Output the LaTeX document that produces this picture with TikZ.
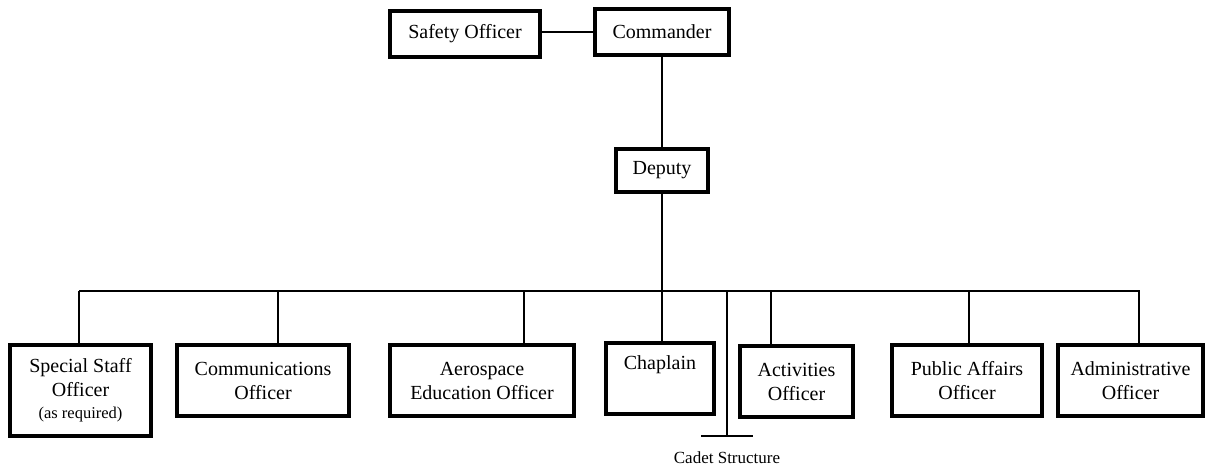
\documentclass[tikz,border=0pt]{standalone}
\usepackage{fontspec}
\setmainfont{Liberation Serif}
\begin{document}
\begin{tikzpicture}[x=1pt,y=-1pt,
  box/.style={draw, line width=4pt, inner sep=0pt, align=center,
    font=\fontsize{20}{24}\selectfont},
  thin/.style={line width=1.3pt}]
\useasboundingbox[fill=white] (0,0) rectangle (1209,472);
% top
\node[box, minimum width=150pt, minimum height=46pt] (safety) at (465,34) {Safety Officer};
\node[box, minimum width=134pt, minimum height=46pt] (commander) at (662,32) {Commander};
\node[box, minimum width=92pt, minimum height=43pt] (deputy) at (662,170.5) {Deputy};
% bottom row
\node[box, minimum width=141pt, minimum height=91pt] (special) at (80.5,390.5) {Special Staff\\Officer\\[-2pt]{\fontsize{16.5}{18}\selectfont (as required)}};
\node[box, minimum width=172pt, minimum height=71pt] (comm) at (263,380.5) {Communications\\Officer};
\node[box, minimum width=184pt, minimum height=71pt] (aero) at (482,380.5) {Aerospace\\Education Officer};
\node[box, minimum width=108pt, minimum height=71pt] (chap) at (660,378.5) {Chaplain\\\strut};
\node[box, minimum width=113pt, minimum height=71pt] (act) at (796.5,381.5) {Activities\\Officer};
\node[box, minimum width=150pt, minimum height=71pt] (pub) at (967,380.5) {Public Affairs\\Officer};
\node[box, minimum width=145pt, minimum height=71pt] (admin) at (1130.5,380.5) {Administrative\\Officer};
% bus coordinates
\coordinate (busL) at (79,291);
\coordinate (busR) at (1140,291);
\coordinate (c2) at (278,291);
\coordinate (c3) at (524,291);
\coordinate (c4) at (662,291);
\coordinate (cad) at (727,291);
\coordinate (c5) at (771,291);
\coordinate (c6) at (969,291);
\coordinate (c7) at (1139,291);
\coordinate (cadB) at (727,436);
\coordinate (cadL) at (701,436);
\coordinate (cadR) at (753,436);
% connectors
\draw[thin] (commander.west) -- (commander.west -| safety.east);
\draw[thin] (commander.south) -- (deputy.north);
\draw[thin] (deputy.south) -- (c4);
\draw[thin] (busL) -- (busR);
\draw[thin] (busL) -- (busL |- special.north);
\draw[thin] (c2) -- (c2 |- comm.north);
\draw[thin] (c3) -- (c3 |- aero.north);
\draw[thin] (c4) -- (c4 |- chap.north);
\draw[thin] (c5) -- (c5 |- act.north);
\draw[thin] (c6) -- (c6 |- pub.north);
\draw[thin] (c7) -- (c7 |- admin.north);
\draw[thin] (cad) -- (cadB);
\draw[thin] (cadL) -- (cadR);
\node[font=\fontsize{17}{20}\selectfont, inner sep=0pt] (cadet) at (727,458) {Cadet Structure};
\end{tikzpicture}
\end{document}
